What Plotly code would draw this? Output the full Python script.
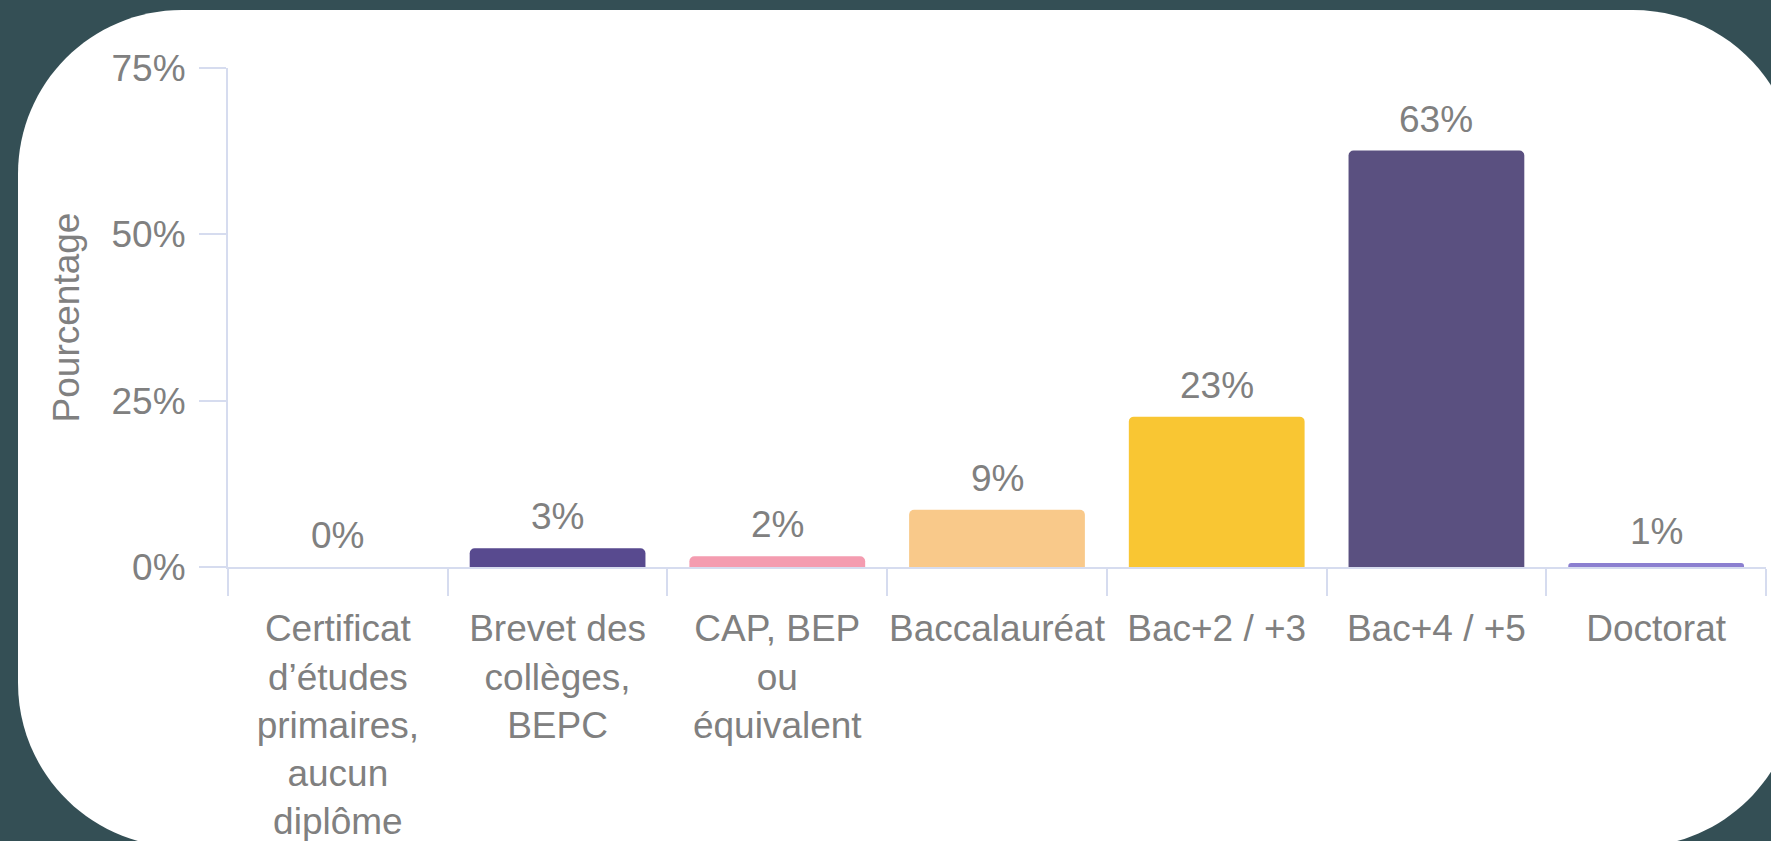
import plotly.graph_objects as go

categories = [
    "Certificat<br>d’études<br>primaires,<br>aucun<br>diplôme",
    "Brevet des<br>collèges,<br>BEPC",
    "CAP, BEP<br>ou<br>équivalent",
    "Baccalauréat",
    "Bac+2 / +3",
    "Bac+4 / +5",
    "Doctorat",
]
values = [0.0, 2.8, 1.6, 8.6, 22.6, 62.6, 0.6]
colors = ["#5b4a8f", "#584a8f", "#f49cb0", "#f9c98a", "#f9c633", "#5a5080", "#8b7fd0"]
y_ticks = [0, 25, 50, 75]

W, H = 1771, 841
ML, MR, MT, MB = 228, 5, 68, 274
PW = W - ML - MR
PH = H - MT - MB

def px(x):
    return (x - ML) / PW

def py(y):
    return (H - MB - y) / PH

def rounded_rect(x0, y0, x1, y1, r):
    k = 0.5523 * r
    pts = []
    pts.append(f"M {px(x0 + r)},{py(y0)}")
    pts.append(f"L {px(x1 - r)},{py(y0)}")
    pts.append(f"C {px(x1 - r + k)},{py(y0)} {px(x1)},{py(y0 + r - k)} {px(x1)},{py(y0 + r)}")
    pts.append(f"L {px(x1)},{py(y1 - r)}")
    pts.append(f"C {px(x1)},{py(y1 - r + k)} {px(x1 - r + k)},{py(y1)} {px(x1 - r)},{py(y1)}")
    pts.append(f"L {px(x0 + r)},{py(y1)}")
    pts.append(f"C {px(x0 + r - k)},{py(y1)} {px(x0)},{py(y1 - r + k)} {px(x0)},{py(y1 - r)}")
    pts.append(f"L {px(x0)},{py(y0 + r)}")
    pts.append(f"C {px(x0)},{py(y0 + r - k)} {px(x0 + r - k)},{py(y0)} {px(x0 + r)},{py(y0)}")
    pts.append("Z")
    return " ".join(pts)

FONT = "Arial, Liberation Sans, sans-serif"
GREY = "#808080"
AXIS = "#d6dcef"
BG = "#344f55"

fig = go.Figure(
    go.Bar(
        x=categories,
        y=values,
        marker=dict(color=colors, cornerradius=5, line=dict(width=0)),
        hoverinfo="skip",
    )
)

annotations = [
    dict(
        x=c,
        y=v,
        xref="x",
        yref="y",
        text=f"{v:.0f}%",
        showarrow=False,
        yanchor="bottom",
        yshift=9,
        font=dict(size=37, color=GREY, family=FONT),
    )
    for c, v in zip(categories, values)
]

fig.update_layout(
    width=W,
    height=H,
    margin=dict(l=ML, r=MR, t=MT, b=MB, autoexpand=False),
    paper_bgcolor=BG,
    plot_bgcolor="rgba(0,0,0,0)",
    bargap=0.2,
    showlegend=False,
    font=dict(family=FONT, size=37, color=GREY),
    annotations=annotations,
    shapes=[
        dict(
            type="path",
            xref="paper",
            yref="paper",
            path=rounded_rect(18, 10, 1797, 847, 164),
            fillcolor="white",
            line=dict(width=0),
            layer="below",
        )
    ],
)

fig.update_xaxes(
    type="category",
    tickson="boundaries",
    ticks="outside",
    ticklen=27,
    tickwidth=2,
    tickcolor=AXIS,
    tickangle=0,
    ticklabelstandoff=28,
    showline=True,
    linecolor=AXIS,
    linewidth=2,
    showgrid=False,
    tickfont=dict(size=37, color=GREY, family=FONT),
    automargin=False,
)

fig.update_yaxes(
    range=[0, 75],
    tickvals=y_ticks,
    ticktext=[f"{v}%" for v in y_ticks],
    ticks="outside",
    ticklen=27,
    tickwidth=2,
    tickcolor=AXIS,
    ticklabelstandoff=6,
    showline=True,
    linecolor=AXIS,
    linewidth=2,
    showgrid=False,
    zeroline=False,
    tickfont=dict(size=37, color=GREY, family=FONT),
    title=dict(text="Pourcentage", font=dict(size=37, color=GREY, family=FONT), standoff=21),
    automargin=False,
)

fig.write_html(
    "out.html",
    config={"displayModeBar": False},
    post_script=f"document.body.style.margin='0';document.body.style.overflow='hidden';document.body.style.background='{BG}';",
)
